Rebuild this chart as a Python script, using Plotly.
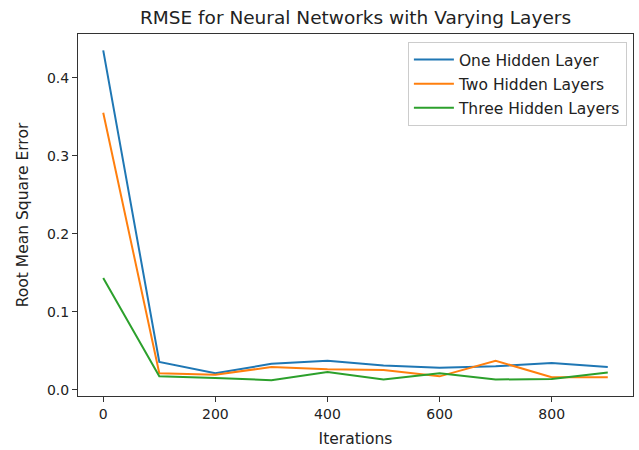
import plotly.graph_objects as go

iterations = [0, 100, 200, 300, 400, 500, 600, 700, 800, 900]
one_layer = [0.435, 0.0355, 0.021, 0.033, 0.037, 0.031, 0.028, 0.030, 0.034, 0.029]
two_layers = [0.355, 0.021, 0.019, 0.029, 0.026, 0.025, 0.017, 0.037, 0.016, 0.016]
three_layers = [0.143, 0.017, 0.015, 0.012, 0.0225, 0.013, 0.021, 0.013, 0.0135, 0.022]

series = [
    ("One Hidden Layer", one_layer, "#1f77b4"),
    ("Two Hidden Layers", two_layers, "#ff7f0e"),
    ("Three Hidden Layers", three_layers, "#2ca02c"),
]

fig = go.Figure()
for i, (name, vals, color) in enumerate(series):
    fig.add_trace(go.Scatter(x=iterations, y=vals, mode="lines", name=name,
                             legendgroup=f"g{i}",
                             line=dict(color=color, width=2)))

font = "DejaVu Sans"
txt = "#222222"
axis_common = dict(
    showgrid=False, zeroline=False, showline=True, linecolor="#333333", linewidth=1,
    mirror=True, ticks="outside", ticklen=5, tickwidth=1, tickcolor="#333333",
    tickfont=dict(family=font, size=14, color=txt),
)

fig.update_layout(
    width=639, height=450,
    margin=dict(l=78, r=6, t=34, b=54),
    paper_bgcolor="white", plot_bgcolor="white",
    font=dict(family=font, color=txt),
    title=dict(text="RMSE for Neural Networks with Varying Layers",
               font=dict(family=font, size=18.5, color=txt),
               x=0.5, xref="paper", xanchor="center",
               y=1 - 18 / 450, yref="container", yanchor="middle"),
    xaxis=dict(range=[-45, 945], tickvals=[0, 200, 400, 600, 800],
               title=dict(text="Iterations", font=dict(family=font, size=15.5, color=txt), standoff=12),
               **axis_common),
    yaxis=dict(range=[-0.0082, 0.456], tickvals=[0.0, 0.1, 0.2, 0.3, 0.4],
               tickformat=".1f",
               title=dict(text="Root Mean Square Error", font=dict(family=font, size=15.5, color=txt), standoff=14),
               **axis_common),
    legend=dict(x=0.989, y=0.978, xanchor="right", yanchor="top",
                bgcolor="rgba(255,255,255,0.8)", bordercolor="#cccccc", borderwidth=1,
                font=dict(family=font, size=15.5, color=txt),
                tracegroupgap=1, itemwidth=40),
    showlegend=True,
)
fig.update_xaxes(automargin=False)
fig.update_yaxes(automargin=False)

fig.write_html("out.html")
